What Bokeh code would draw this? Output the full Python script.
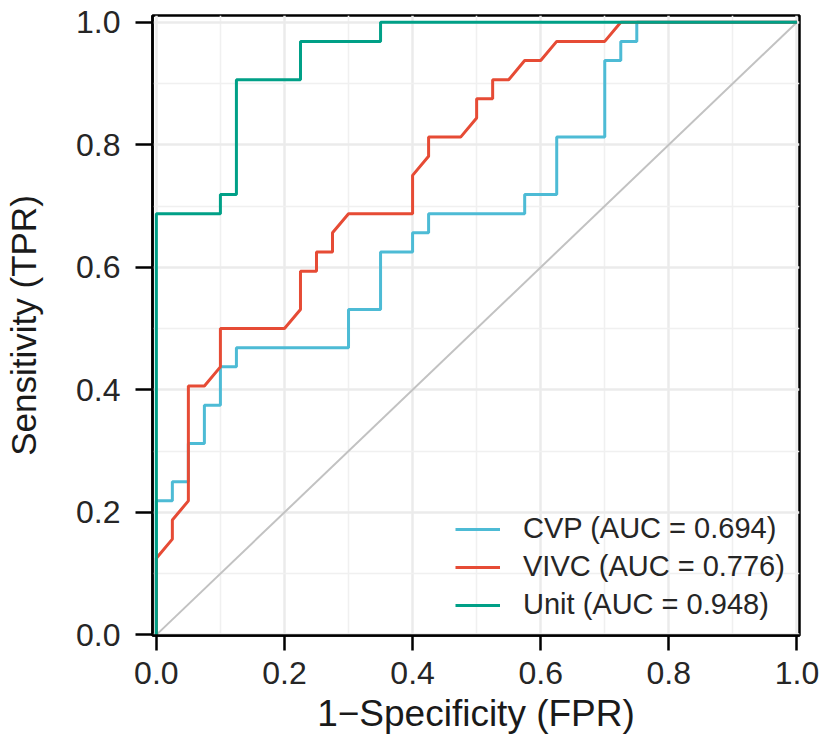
from bokeh.plotting import figure
from bokeh.models import FixedTicker, Legend, LegendItem, Range1d, PrintfTickFormatter
from bokeh.embed import file_html
from bokeh.resources import INLINE

# ---- data ----
model_names = ["CVP", "VIVC", "Unit"]
model_auc = [0.694, 0.776, 0.948]
model_colors = ["#4DBBD5", "#E64B35", "#00A087"]

cvp_fpr = [0, 0, 0.025, 0.025, 0.05, 0.05, 0.075, 0.075, 0.1, 0.1, 0.125, 0.125, 0.3, 0.3,
           0.35, 0.35, 0.4, 0.4, 0.425, 0.425, 0.575, 0.575, 0.625, 0.625, 0.7, 0.7,
           0.725, 0.725, 0.75, 0.75, 1.0]
cvp_tpr = [0, 0.21875, 0.21875, 0.25, 0.25, 0.3125, 0.3125, 0.375, 0.375, 0.4375, 0.4375,
           0.46875, 0.46875, 0.53125, 0.53125, 0.625, 0.625, 0.65625, 0.65625, 0.6875,
           0.6875, 0.71875, 0.71875, 0.8125, 0.8125, 0.9375, 0.9375, 0.96875, 0.96875, 1.0, 1.0]

vivc_fpr = [0, 0, 0.025, 0.025, 0.05, 0.05, 0.075, 0.1, 0.1, 0.2, 0.225, 0.225, 0.25, 0.25,
            0.275, 0.275, 0.3, 0.4, 0.4, 0.425, 0.425, 0.475, 0.5, 0.5, 0.525, 0.525,
            0.55, 0.575, 0.6, 0.625, 0.7, 0.725, 1.0]
vivc_tpr = [0, 0.125, 0.15625, 0.1875, 0.21875, 0.40625, 0.40625, 0.4375, 0.5, 0.5, 0.53125,
            0.59375, 0.59375, 0.625, 0.625, 0.65625, 0.6875, 0.6875, 0.75, 0.78125, 0.8125,
            0.8125, 0.84375, 0.875, 0.875, 0.90625, 0.90625, 0.9375, 0.9375, 0.96875,
            0.96875, 1.0, 1.0]

unit_fpr = [0, 0, 0.1, 0.1, 0.125, 0.125, 0.225, 0.225, 0.35, 0.35, 1.0]
unit_tpr = [0, 0.6875, 0.6875, 0.71875, 0.71875, 0.90625, 0.90625, 0.96875, 0.96875, 1.0, 1.0]

chance_x = [0, 1]
chance_y = [0, 1]

major_ticks = [0.0, 0.2, 0.4, 0.6, 0.8, 1.0]
minor_ticks = [0.1, 0.3, 0.5, 0.7, 0.9]

x_title = "1\u2212Specificity (FPR)"
y_title = "Sensitivity (TPR)"

FONT = "Liberation Sans"

p = figure(width=827, height=736, output_backend="svg", toolbar_location=None,
           x_range=Range1d(-0.006, 1.004), y_range=Range1d(-0.001, 1.011),
           min_border_left=152, min_border_right=28, min_border_top=15, min_border_bottom=101,
           background_fill_color="white", border_fill_color="white")

p.outline_line_color = "black"
p.outline_line_width = 2.5
p.outline_line_alpha = 1.0

for ax in (p.xaxis[0], p.yaxis[0]):
    ax.ticker = FixedTicker(ticks=major_ticks, minor_ticks=minor_ticks)
    ax.formatter = PrintfTickFormatter(format="%.1f")
    ax.axis_line_color = "black"
    ax.axis_line_width = 2.5
    ax.major_tick_line_color = "black"
    ax.major_tick_line_width = 2.5
    ax.major_tick_in = 0
    ax.minor_tick_line_color = None
    ax.major_label_text_font = FONT
    ax.major_label_text_font_size = "32px"
    ax.major_label_text_color = "#262626"
    ax.axis_label_text_font = FONT
    ax.axis_label_text_font_style = "normal"
    ax.axis_label_text_color = "#1a1a1a"

p.xaxis.major_tick_out = 15
p.yaxis.major_tick_out = 17
p.xaxis.major_label_standoff = 11
p.yaxis.major_label_standoff = 15
p.xaxis.axis_label = x_title
p.yaxis.axis_label = y_title
p.xaxis.axis_label_text_font_size = "37px"
p.yaxis.axis_label_text_font_size = "35px"
p.xaxis.axis_label_standoff = 6
p.yaxis.axis_label_standoff = 30

for g in (p.xgrid[0], p.ygrid[0]):
    g.grid_line_color = "#EBEBEB"
    g.grid_line_width = 2.5
    g.minor_grid_line_color = "#F0F0F0"
    g.minor_grid_line_width = 1.6

p.line(chance_x, chance_y, line_color="#C2C2C2", line_width=2)

series = [(cvp_fpr, cvp_tpr), (vivc_fpr, vivc_tpr), (unit_fpr, unit_tpr)]
items = []
for (fx, ty), name, auc, col in zip(series, model_names, model_auc, model_colors):
    r = p.line(fx, ty, line_color=col, line_width=3)
    items.append(LegendItem(label="%s (AUC = %.3f)" % (name, auc), renderers=[r]))

legend = Legend(items=items, location=(303, 14), padding=0, margin=0,
                background_fill_alpha=0, border_line_alpha=0,
                label_text_font=FONT, label_text_font_size="29px",
                label_text_color="#262626",
                glyph_width=45, glyph_height=32, label_height=32,
                label_standoff=23, spacing=5)
p.add_layout(legend)

open("out.html", "w").write(file_html(p, INLINE))
